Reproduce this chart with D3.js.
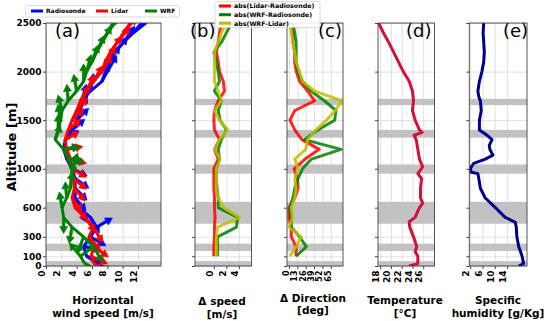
<!DOCTYPE html>
<html>
<head>
<meta charset="utf-8">
<script src="https://cdn.jsdelivr.net/npm/d3@7"></script>
<style>
body { margin: 0; background: #fff; }
svg { display: block; font-family: "DejaVu Sans", sans-serif; }
</style>
</head>
<body>
<div id="chart"></div>
<script>
const w = 550;
const h = 321;
const yTop = 23;
const yBot = 266;

// altitude ticks and shaded layers
const altTicks = [0, 100, 300, 600, 1000, 1500, 2000, 2500];
const bandLo = [0, 155, 435, 950, 1320, 1655];
const bandHi = [50, 230, 660, 1045, 1400, 1720];

// (a) wind speed profiles, m/s, and direction the arrow points (deg, clockwise from up)
const windAlt = [2500,2400,2300,2200,2100,2000,1900,1800,1700,1600,1500,1400,1300,1200,1100,1000,900,800,700,600,500,400,300,200,100,30];
const radioSpd = [13.0,11.4,10.1,9.0,8.2,8.0,7.3,5.8,4.7,4.3,4.0,3.4,2.5,2.3,2.7,3.4,3.8,3.8,3.8,4.3,5.8,6.6,5.8,4.9,5.3,6.6];
const lidarSpd = [11.0,10.1,9.3,8.4,7.7,7.3,6.2,5.3,4.5,4.0,3.4,2.9,2.5,2.7,3.2,3.4,3.6,3.7,3.4,3.8,5.1,6.2,5.6,6.2,5.9,6.2];
const wrfSpd = [9.0,8.0,7.3,6.6,6.0,5.3,4.9,4.0,2.9,2.1,1.9,1.6,1.2,2.3,2.9,3.4,3.3,3.2,2.7,2.1,2.3,3.4,4.9,6.2,4.5,5.0];
const radioDir = [40,40,35,40,35,30,20,10,15,30,45,50,55,80,95,115,125,135,140,150,150,60,120,100,110,120];
const lidarDir = [40,40,40,35,35,30,30,25,30,40,45,50,60,80,105,120,130,140,145,135,145,150,140,125,115,120];
const wrfDir = [35,30,30,25,20,15,0,-10,-5,-15,-10,0,20,80,100,20,10,5,-5,-10,180,190,200,150,-40,120];

// (b) and (c) absolute differences
const diffAlt = [2500,2400,2300,2200,2100,2000,1900,1800,1700,1600,1500,1400,1300,1200,1100,1000,900,800,700,600,500,400,300,200,100];
const spdLR = [1.2,0.9,0.7,0.4,0.7,0.9,1.5,1.7,0.7,0.1,0.0,0.1,0.9,0.1,0.7,0.0,0.0,0.0,0.1,0.1,0.2,0.1,0.1,0.0,0.0];
const spdWR = [2.8,2.0,1.2,0.0,0.4,0.7,0.9,0.1,1.2,0.7,1.0,2.0,1.2,0.7,0.9,0.4,0.4,0.5,0.7,0.7,3.8,3.6,0.6,0.6,0.6];
const spdWL = [2.0,1.2,0.7,0.1,0.1,0.1,0.1,0.7,1.2,0.1,0.9,2.2,0.9,0.1,1.0,0.4,0.4,0.4,0.7,1.6,4.1,0.6,0.4,0.4,0.4];
const dirLR = [3.6,6,6,8.8,8.8,11.4,16.5,29,40,9,1.5,9,20,47,25,8,13,14,9,0,0,3.6,3.6,11,11];
const dirWR = [6,9,11,11,11,14,21,34,55,73,71,45,24,81,35,21,14,9,6,1.5,3.6,3.6,16.5,27,11];
const dirWL = [1.5,3.6,6,8.8,11,16.5,21,40,82,72,58,42,29,26,9,14,9,11,9,3.6,6,0,19,11,1.5];

// (d) temperature and (e) specific humidity
const tempAlt = [2500,2400,2300,2200,2100,2000,1900,1800,1700,1600,1500,1400,1375,1345,1300,1200,1100,1020,950,900,800,700,645,600,500,455,400,300,200,150,100,25,0];
const tempVal = [17.7,18.6,19.6,20.5,21.4,22.3,23.4,24.0,24.2,24.0,24.5,25.3,25.8,24.3,24.7,25.0,25.3,25.9,25.0,25.7,25.5,25.5,25.9,25.3,24.5,23.4,23.5,24.2,24.8,24.5,25.0,25.0,23.4];
const humAlt = [2500,2400,2300,2200,2100,2000,1900,1800,1740,1700,1600,1500,1400,1345,1300,1240,1200,1140,1100,1055,1000,965,950,900,800,700,600,500,450,400,300,200,100,25,0];
const humVal = [6.4,6.2,6.4,6.6,6.4,5.8,5.0,4.5,4.8,5.3,5.6,5.0,5.0,7.5,9.1,8.2,8.4,9.4,6.9,3.1,2.0,2.4,4.5,4.8,5.3,6.9,10.2,13.4,16.7,17.0,17.2,17.8,18.9,19.4,17.8];

// x tick labels
const spdTicks = [0, 2, 4, 6, 8, 10, 12];
const dspdTicks = [0, 2, 4];
const ddirTicks = [0, 13, 26, 39, 52, 65];
const tempTicks = [18, 20, 22, 24, 26];
const humTicks = [2, 6, 10, 14];

const svg = d3.select('#chart')
  .append('svg')
  .attr('width', w)
  .attr('height', h);

const yScale = d3.scaleLinear().domain([0, 2500]).range([yBot, yTop]);

const panels = [
  {key: 'a', x0: 46, x1: 161, dom: [0, 15], ticks: spdTicks, letter: '(a)', lx: 55,
    title: ['Horizontal', 'wind speed [m/s]'], tx: 103, ty: [304, 316.5]},
  {key: 'b', x0: 195, x1: 251.5, dom: [-3, 6], ticks: dspdTicks, letter: '(b)', lx: 190,
    title: ['\u0394 speed', '[m/s]'], tx: 222, ty: [305, 317.5]},
  {key: 'c', x0: 287, x1: 343, dom: [-3.1, 84], ticks: ddirTicks, letter: '(c)', lx: 318,
    title: ['\u0394 Direction', '[deg]'], tx: 313, ty: [301.5, 314]},
  {key: 'd', x0: 378, x1: 434.5, dom: [17.6, 28.1], ticks: tempTicks, letter: '(d)', lx: 406,
    title: ['Temperature', '[\u00b0C]'], tx: 405, ty: [304, 316.5]},
  {key: 'e', x0: 469.3, x1: 527, dom: [1.7, 20.5], ticks: humTicks, letter: '(e)', lx: 503,
    title: ['Specific', 'humidity [g/Kg]'], tx: 498, ty: [304, 316.5]}
];

const defs = svg.append('defs');
const xs = {};

panels.forEach(p => {
  const x = d3.scaleLinear().domain(p.dom).range([p.x0, p.x1]);
  xs[p.key] = x;
  const g = svg.append('g').attr('id', 'panel-' + p.key);
  p.g = g;

  defs.append('clipPath').attr('id', 'clip-' + p.key)
    .append('rect')
    .attr('x', p.x0).attr('y', yTop)
    .attr('width', p.x1 - p.x0).attr('height', yBot - yTop);

  // grid
  g.append('g')
    .attr('transform', `translate(0,${yBot})`)
    .call(d3.axisBottom(x).tickValues(p.ticks).tickSize(-(yBot - yTop)).tickFormat(''))
    .call(s => s.select('.domain').remove())
    .call(s => s.selectAll('line').attr('stroke', '#d8d8d8').attr('stroke-width', 0.8));
  g.append('g')
    .attr('transform', `translate(${p.x0},0)`)
    .call(d3.axisLeft(yScale).tickValues(altTicks).tickSize(-(p.x1 - p.x0)).tickFormat(''))
    .call(s => s.select('.domain').remove())
    .call(s => s.selectAll('line').attr('stroke', '#d8d8d8').attr('stroke-width', 0.8));

  // shaded layers
  g.append('g').selectAll('rect')
    .data(d3.zip(bandLo, bandHi))
    .enter()
    .append('rect')
    .attr('x', p.x0)
    .attr('width', p.x1 - p.x0)
    .attr('y', d => yScale(d[1]))
    .attr('height', d => yScale(d[0]) - yScale(d[1]))
    .attr('fill', '#c2c2c2');
});

const lineFor = (x, vals, alts) => d3.line()
  .x((d, i) => x(vals[i]))
  .y((d, i) => yScale(alts[i]))(alts);

// (a) profiles with direction arrows
const pa = panels[0];
const layerA = pa.g.append('g').attr('clip-path', 'url(#clip-a)');
const windSeries = [
  {spd: radioSpd, dir: radioDir, color: '#0000ff'},
  {spd: lidarSpd, dir: lidarDir, color: '#ff0000'},
  {spd: wrfSpd, dir: wrfDir, color: '#008000'}
];
windSeries.forEach(s => {
  layerA.append('path')
    .attr('d', lineFor(xs.a, s.spd, windAlt))
    .attr('fill', 'none')
    .attr('stroke', s.color)
    .attr('stroke-width', 3)
    .attr('stroke-linejoin', 'round');
  layerA.selectAll(null)
    .data(windAlt.map((a, i) => ({a: a, v: s.spd[i], d: s.dir[i]})))
    .enter()
    .append('path')
    .attr('fill', s.color)
    .attr('stroke', s.color)
    .attr('stroke-width', 0.6)
    .attr('stroke-linejoin', 'round')
    .attr('d', d => {
      const x0 = xs.a(d.v);
      const y0 = yScale(d.a);
      const len = 15 + 0.5 * d.v;
      const r = d.d * Math.PI / 180;
      const ux = Math.sin(r), uy = -Math.cos(r);
      const px = -uy, py = ux;
      const hw = 1.3, hh = 4, hl = 7;
      const bx = x0 + ux * (len - hl), by = y0 + uy * (len - hl);
      const tx = x0 + ux * len, ty = y0 + uy * len;
      return `M${x0 + px * hw},${y0 + py * hw}L${bx + px * hw},${by + py * hw}L${bx + px * hh},${by + py * hh}`
        + `L${tx},${ty}L${bx - px * hh},${by - py * hh}L${bx - px * hw},${by - py * hw}L${x0 - px * hw},${y0 - py * hw}Z`;
    });
});

// (b) and (c) differences
const diffColors = ['#ff0000', '#008000', '#bfbf00'];
[[panels[1], [spdLR, spdWR, spdWL]], [panels[2], [dirLR, dirWR, dirWL]]].forEach(([p, series]) => {
  const layer = p.g.append('g').attr('clip-path', `url(#clip-${p.key})`);
  series.forEach((vals, i) => {
    layer.append('path')
      .attr('d', lineFor(xs[p.key], vals, diffAlt))
      .attr('fill', 'none')
      .attr('stroke', diffColors[i])
      .attr('stroke-width', 3)
      .attr('stroke-opacity', 0.85)
      .attr('stroke-linejoin', 'round');
  });
});

// (d) temperature, (e) humidity
panels[3].g.append('g').attr('clip-path', 'url(#clip-d)')
  .append('path')
  .attr('d', lineFor(xs.d, tempVal, tempAlt))
  .attr('fill', 'none')
  .attr('stroke', '#d2103c')
  .attr('stroke-width', 3)
  .attr('stroke-linejoin', 'round');
panels[4].g.append('g').attr('clip-path', 'url(#clip-e)')
  .append('path')
  .attr('d', lineFor(xs.e, humVal, humAlt))
  .attr('fill', 'none')
  .attr('stroke', '#00008b')
  .attr('stroke-width', 3)
  .attr('stroke-linejoin', 'round');

// frames, axes, titles
panels.forEach(p => {
  const g = p.g;
  g.append('rect')
    .attr('x', p.x0).attr('y', yTop)
    .attr('width', p.x1 - p.x0).attr('height', yBot - yTop)
    .attr('fill', 'none')
    .attr('stroke', '#444')
    .attr('stroke-width', 0.9);

  const xAxis = g.append('g')
    .attr('transform', `translate(0,${yBot})`)
    .call(d3.axisBottom(xs[p.key]).tickValues(p.ticks).tickSize(3).tickFormat(d => String(d)));
  xAxis.select('.domain').remove();
  xAxis.selectAll('line').attr('stroke', '#444');
  xAxis.selectAll('text')
    .attr('transform', 'rotate(-90)')
    .attr('x', -4.5)
    .attr('y', p.key === 'c' ? -3.5 : -4.5)
    .attr('dy', '0.35em')
    .attr('text-anchor', 'end')
    .style('font-family', '"DejaVu Sans", sans-serif')
    .style('font-size', p.key === 'c' ? '8px' : '9px')
    .style('font-weight', 'bold')
    .attr('fill', '#000');

  const yAxis = g.append('g')
    .attr('transform', `translate(${p.x0},0)`)
    .call(d3.axisLeft(yScale).tickValues(altTicks).tickSize(3)
      .tickPadding(1.5)
      .tickFormat(p.key === 'a' ? d => String(d) : ''));
  yAxis.select('.domain').remove();
  yAxis.selectAll('line').attr('stroke', '#444');
  yAxis.selectAll('text')
    .style('font-family', '"DejaVu Sans", sans-serif')
    .style('font-size', '9px')
    .style('font-weight', 'bold')
    .attr('fill', '#000');

  g.append('text')
    .text(p.letter)
    .attr('x', p.lx)
    .attr('y', 37)
    .style('font-size', '18px');

  p.title.forEach((t, i) => {
    g.append('text')
      .text(t)
      .attr('x', p.tx)
      .attr('y', p.ty[i])
      .attr('text-anchor', 'middle')
      .style('font-size', '10.5px')
      .style('font-weight', 'bold');
  });
});

svg.append('text')
  .text('Altitude [m]')
  .attr('transform', 'translate(16,147) rotate(-90)')
  .attr('text-anchor', 'middle')
  .style('font-size', '13px')
  .style('font-weight', 'bold');

// legends
const legendA = svg.append('g').attr('id', 'legend-a');
legendA.append('rect')
  .attr('x', 25.5).attr('y', 5.5).attr('width', 154).attr('height', 11.5)
  .attr('rx', 2)
  .attr('fill', '#fff').attr('fill-opacity', 0.9)
  .attr('stroke', '#cccccc').attr('stroke-width', 0.7);
const legANames = ['Radiosonde', 'Lidar', 'WRF'];
const legAX = [31, 96, 145];
legANames.forEach((n, i) => {
  legendA.append('line')
    .attr('x1', legAX[i]).attr('x2', legAX[i] + 12)
    .attr('y1', 11).attr('y2', 11)
    .attr('stroke', windSeries[i].color).attr('stroke-width', 3);
  legendA.append('text')
    .text(n)
    .attr('x', legAX[i] + 15)
    .attr('y', 13.2)
    .style('font-size', '6px')
    .style('font-weight', 'bold');
});

const legendB = svg.append('g').attr('id', 'legend-b');
legendB.append('rect')
  .attr('x', 215).attr('y', 1.5).attr('width', 105).attr('height', 26)
  .attr('rx', 2)
  .attr('fill', '#fff').attr('fill-opacity', 0.9)
  .attr('stroke', '#cccccc').attr('stroke-width', 0.7);
const legBNames = ['abs(Lidar-Radiosonde)', 'abs(WRF-Radiosonde)', 'abs(WRF-Lidar)'];
const legBY = [6, 14.7, 23.2];
legBNames.forEach((n, i) => {
  legendB.append('line')
    .attr('x1', 219).attr('x2', 231)
    .attr('y1', legBY[i]).attr('y2', legBY[i])
    .attr('stroke', diffColors[i]).attr('stroke-width', 3);
  legendB.append('text')
    .text(n)
    .attr('x', 234)
    .attr('y', legBY[i] + 2.3)
    .style('font-size', '6.3px')
    .style('font-weight', 'bold');
});
</script>
</body>
</html>
